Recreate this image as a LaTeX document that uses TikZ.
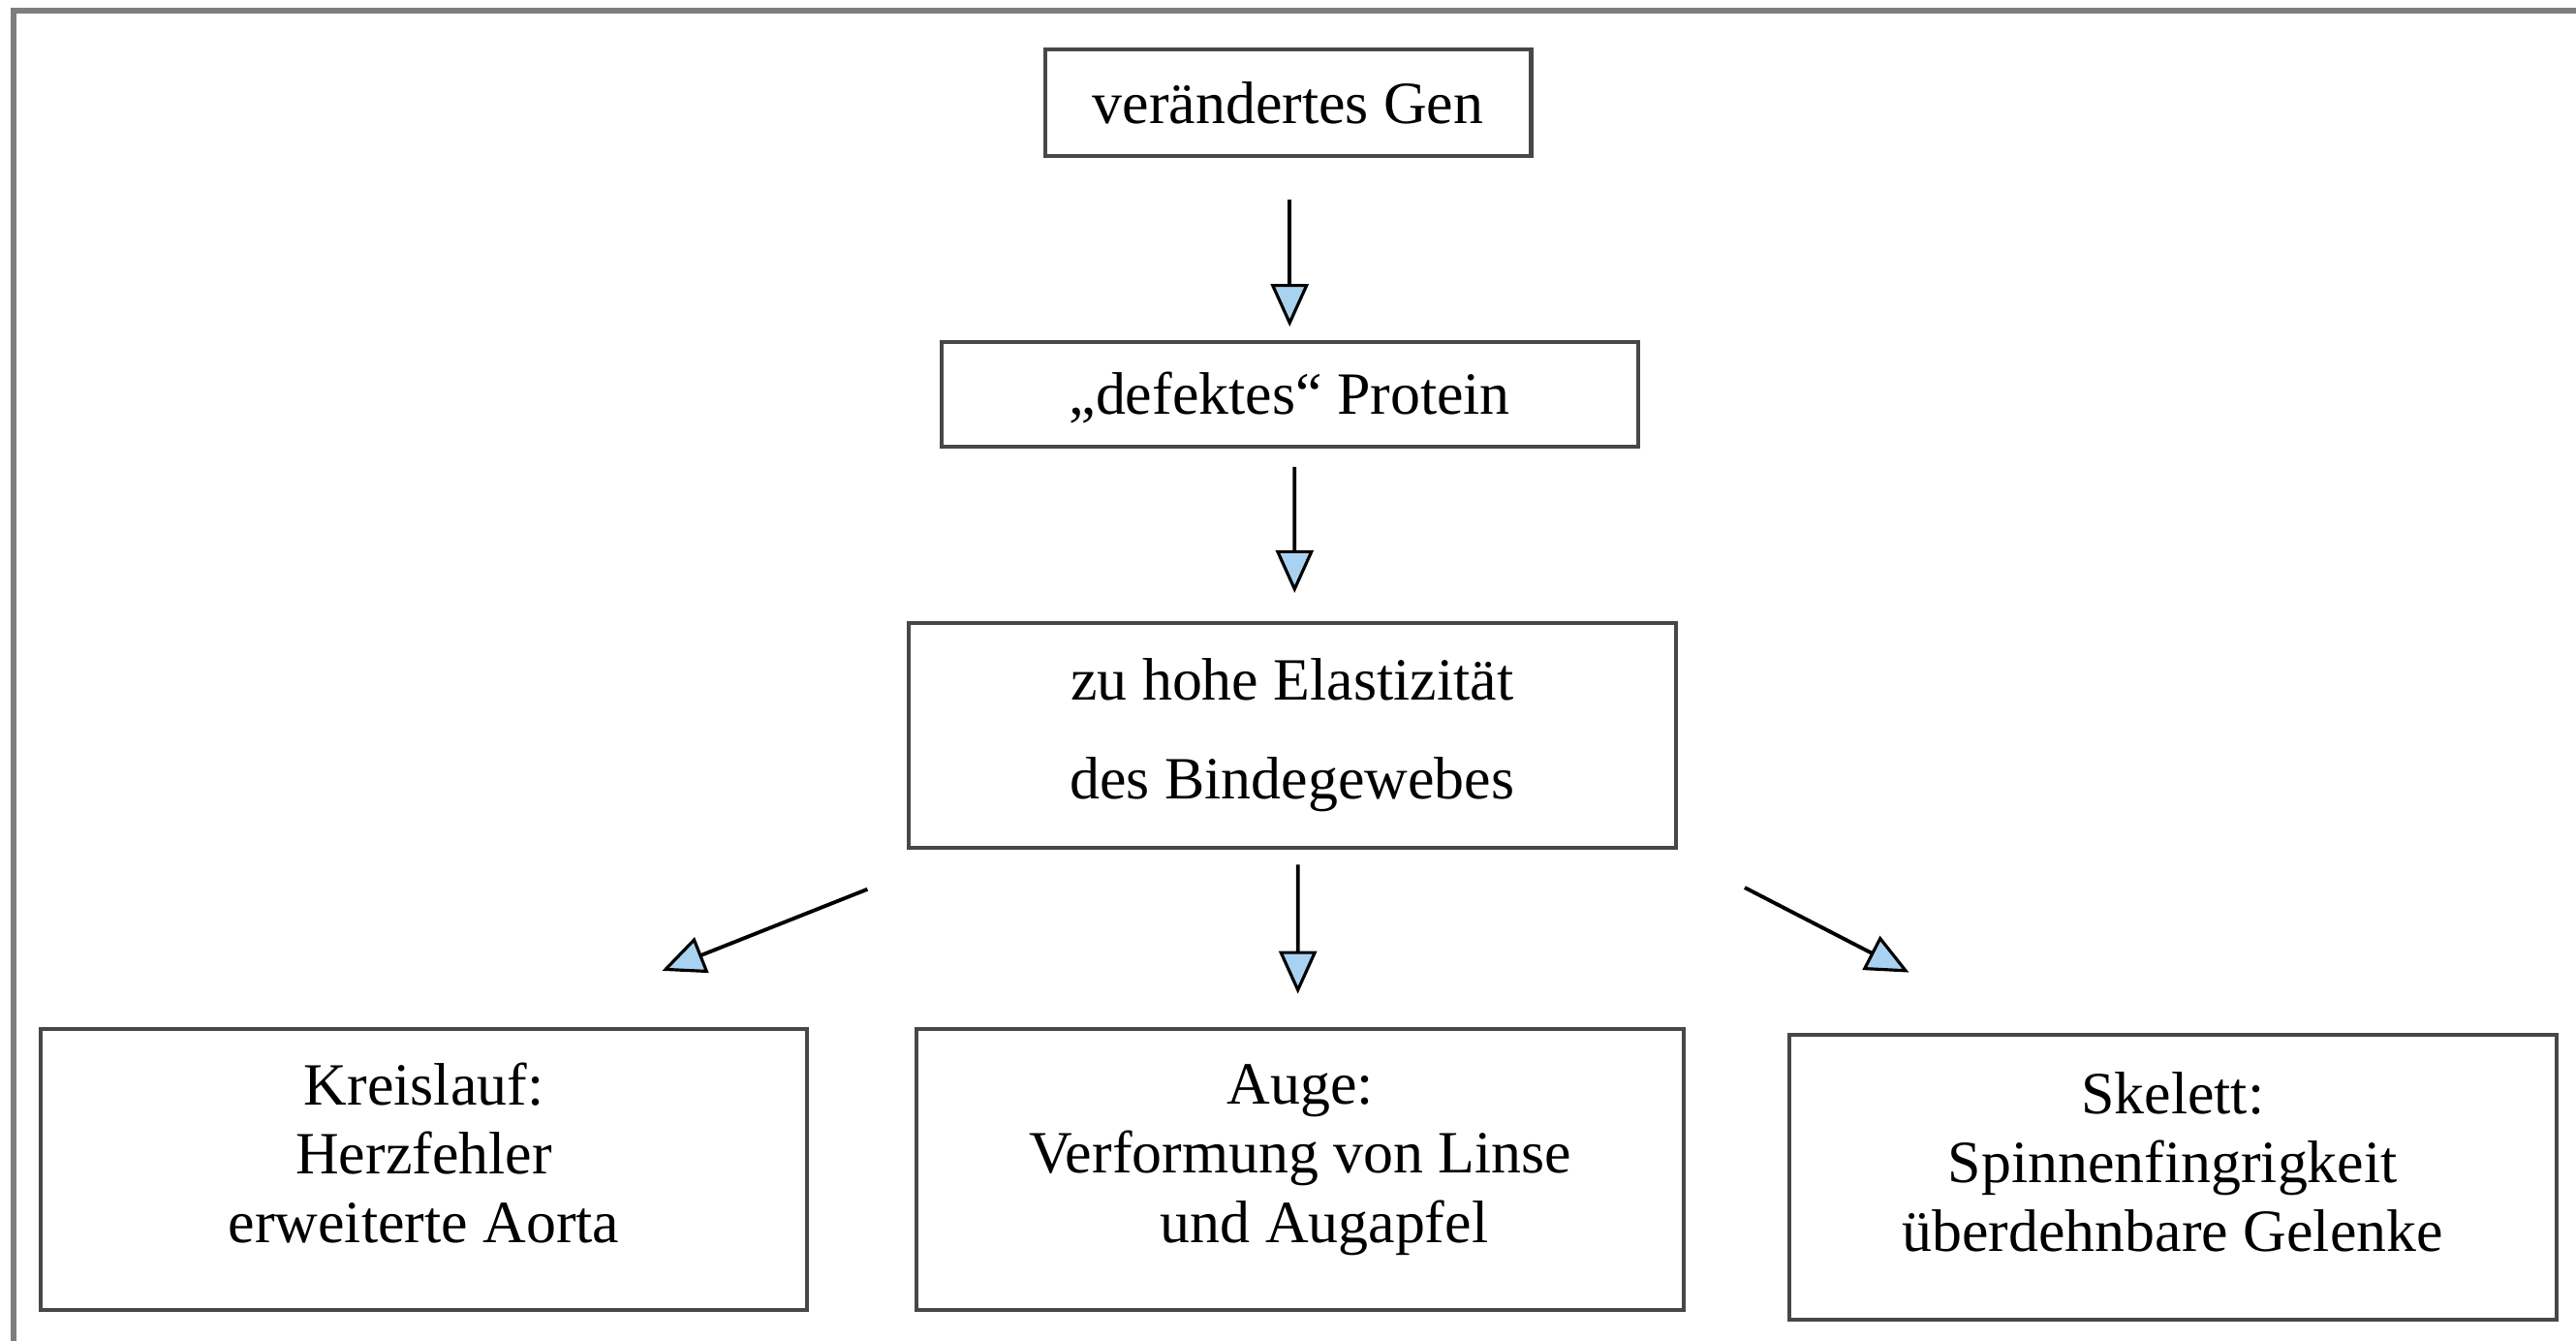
\documentclass[tikz,border=0pt]{standalone}
\usepackage{fontspec}
\setmainfont{Liberation Serif}
\usetikzlibrary{arrows.meta}
\newcommand{\pxu}{0.016958cm}
\definecolor{tipblue}{HTML}{A9D2F0}
\definecolor{framegray}{HTML}{7E7E7E}
\definecolor{boxgray}{HTML}{474747}
\tikzset{
  box/.style={draw=boxgray, line width=1.15pt, fill=white, inner sep=0pt, align=center,
    font=\fontsize{17.6}{20.2}\selectfont},
  boxtext/.style={inner sep=0pt, align=center, font=\fontsize{17.6}{20.2}\selectfont},
  flow/.style={draw=black, line width=1.1pt,
    -{Triangle[length=26*\pxu, width=23*\pxu, fill=tipblue, line width=0.9pt]}}
}
\begin{document}
\begin{tikzpicture}[x=\pxu, y=-\pxu]
\useasboundingbox (0,0) rectangle (1568,816);
\fill[white] (0,0) rectangle (1568,816);
% outer frame: only top and left edges are visible
\draw[framegray, line width=1.5pt] (8.3,816) -- (8.3,6.5) -- (1568,6.5);

% chain of cause
\node[box, minimum width={296*\pxu}, minimum height={65*\pxu}] (gen) at (784,62.5) {verändertes Gen};
\node[box, minimum width={424*\pxu}, minimum height={64*\pxu}, text depth=1pt] (protein) at (785,240) {„defektes“ Protein};
\node[box, minimum width={467*\pxu}, minimum height={137*\pxu},
  font=\fontsize{17.6}{28.9}\selectfont] (elast) at (786.5,447.5) {zu hohe Elastizität\\des Bindegewebes};

% consequences
\node[box, minimum width={466*\pxu}, minimum height={171*\pxu}] (kreis) at (258,711.5) {};
\node[box, minimum width={467*\pxu}, minimum height={171*\pxu}] (auge) at (791.5,711.5) {};
\node[box, minimum width={467*\pxu}, minimum height={173*\pxu}] (skelett) at (1322.5,716.5) {};
\node[boxtext] (kreistext) at (258,702) {Kreislauf:\\Herzfehler\\erweiterte Aorta};
\node[boxtext] (augetext) at (791.5,706) {Auge:\\Verformung von Linse\\\hspace*{0.8em}und Augapfel};
\node[boxtext] (skeletttext) at (1322.5,707) {Skelett:\\Spinnenfingrigkeit\\überdehnbare Gelenke};

% connectors
\draw[flow] ([shift={(1,25)}]gen.south) -- ([shift={(0,-8)}]protein.north);
\draw[flow] ([shift={(3,11)}]protein.south) -- ([shift={(1.5,-17)}]elast.north);
\draw[flow] ([shift={(-258.5,24)}]elast.south) -- ([shift={(145,-34)}]kreis.north);
\draw[flow] ([shift={(3.5,9)}]elast.south) -- ([shift={(-1.5,-20)}]auge.north);
\draw[flow] ([shift={(275.5,23)}]elast.south) -- ([shift={(-160.5,-37)}]skelett.north);
\end{tikzpicture}
\end{document}
